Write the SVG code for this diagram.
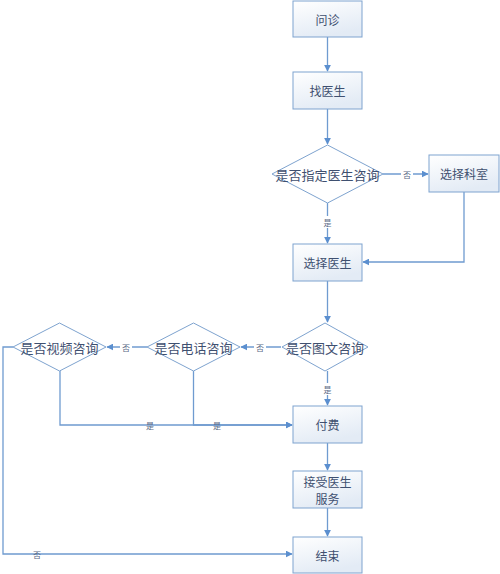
<svg xmlns="http://www.w3.org/2000/svg" width="500" height="574" viewBox="0 0 500 574">
<style>
.box{fill:url(#g);stroke:#7ea3cf;stroke-width:1}
.dia{fill:#ffffff;stroke:#7ea3cf;stroke-width:1}
.t{font-family:"Noto Sans CJK SC","Noto Sans CJK JP",sans-serif;font-size:12px;fill:#3f5070;text-anchor:middle;dominant-baseline:central}
.td{font-family:"Noto Sans CJK SC","Noto Sans CJK JP",sans-serif;font-size:13px;fill:#3f5070;text-anchor:middle;dominant-baseline:central}
.e{fill:none;stroke:#6f9bd0;stroke-width:1.3}
.l{font-family:"Noto Sans CJK SC","Noto Sans CJK JP",sans-serif;font-size:8px;fill:#5a6a86;text-anchor:middle;dominant-baseline:central}
.lb{fill:#ffffff}
</style>
<defs>
<linearGradient id="g" x1="0" y1="0" x2="0.4" y2="1">
<stop offset="0" stop-color="#ffffff"/>
<stop offset="1" stop-color="#e3ebf5"/>
</linearGradient>
<marker id="a" viewBox="0 0 10 10" refX="9" refY="5" markerWidth="7" markerHeight="7" markerUnits="userSpaceOnUse" orient="auto">
<path d="M0,0 L10,5 L0,10 z" fill="#5b8fcf"/>
</marker>
</defs>
<g id="connectors">
<path class="e" d="M327.5,37 V71" marker-end="url(#a)"/>
<path class="e" d="M327.5,109 V144" marker-end="url(#a)"/>
<path class="e" d="M383,174 H428" marker-end="url(#a)"/>
<path class="e" d="M327.5,203 V243" marker-end="url(#a)"/>
<path class="e" d="M464,192 V262 H363" marker-end="url(#a)"/>
<path class="e" d="M327.5,281 V322" marker-end="url(#a)"/>
<path class="e" d="M281,347 H241" marker-end="url(#a)"/>
<path class="e" d="M147,347 H107" marker-end="url(#a)"/>
<path class="e" d="M327.5,371 V405" marker-end="url(#a)"/>
<path class="e" d="M60,371 V425 H292" marker-end="url(#a)"/>
<path class="e" d="M193.5,371 V425 H292" marker-end="url(#a)"/>
<path class="e" d="M327.5,443 V470" marker-end="url(#a)"/>
<path class="e" d="M327.5,508 V536" marker-end="url(#a)"/>
<path class="e" d="M13,347 H3 V554 H292" marker-end="url(#a)"/>
<rect class="lb" x="401" y="168" width="12" height="12"/><text class="l" x="407" y="174">否</text>
<rect class="lb" x="321" y="216" width="13" height="12"/><text class="l" x="327.5" y="222">是</text>
<rect class="lb" x="254" y="341" width="12" height="12"/><text class="l" x="260" y="347">否</text>
<rect class="lb" x="120" y="341" width="12" height="12"/><text class="l" x="126" y="347">否</text>
<rect class="lb" x="321" y="383" width="13" height="12"/><text class="l" x="327.5" y="389">是</text>
<text class="l" x="150" y="425">是</text>
<text class="l" x="217" y="425">是</text>
<text class="l" x="37" y="554">否</text>
</g>
<g id="n1"><rect class="box" x="293" y="1" width="69" height="36"/><text class="t" x="327.5" y="19">问诊</text></g>
<g id="n2"><rect class="box" x="293" y="72" width="69" height="37"/><text class="t" x="327.5" y="90.5">找医生</text></g>
<g id="n3"><polygon class="dia" points="327.5,145 383,174 327.5,203 272,174"/><text class="td" x="327.5" y="174">是否指定医生咨询</text></g>
<g id="n4"><rect class="box" x="429" y="155" width="70" height="37"/><text class="t" x="464" y="173.5">选择科室</text></g>
<g id="n5"><rect class="box" x="293" y="244" width="69" height="37"/><text class="t" x="327.5" y="262.5">选择医生</text></g>
<g id="n6"><polygon class="dia" points="325,323 368,347 325,371 282,347"/><text class="td" x="325" y="347">是否图文咨询</text></g>
<g id="n7"><polygon class="dia" points="193.5,323 240,347 193.5,371 147,347"/><text class="td" x="193.5" y="347">是否电话咨询</text></g>
<g id="n8"><polygon class="dia" points="59.5,323 106,347 59.5,371 13,347"/><text class="td" x="59.5" y="347">是否视频咨询</text></g>
<g id="n9"><rect class="box" x="293" y="406" width="69" height="37"/><text class="t" x="327.5" y="424.5">付费</text></g>
<g id="n10"><rect class="box" x="293" y="471" width="69" height="37"/><text class="t" x="327.5" y="481">接受医生</text><text class="t" x="327.5" y="498">服务</text></g>
<g id="n11"><rect class="box" x="293" y="537" width="69" height="36"/><text class="t" x="327.5" y="555">结束</text></g>
</svg>
